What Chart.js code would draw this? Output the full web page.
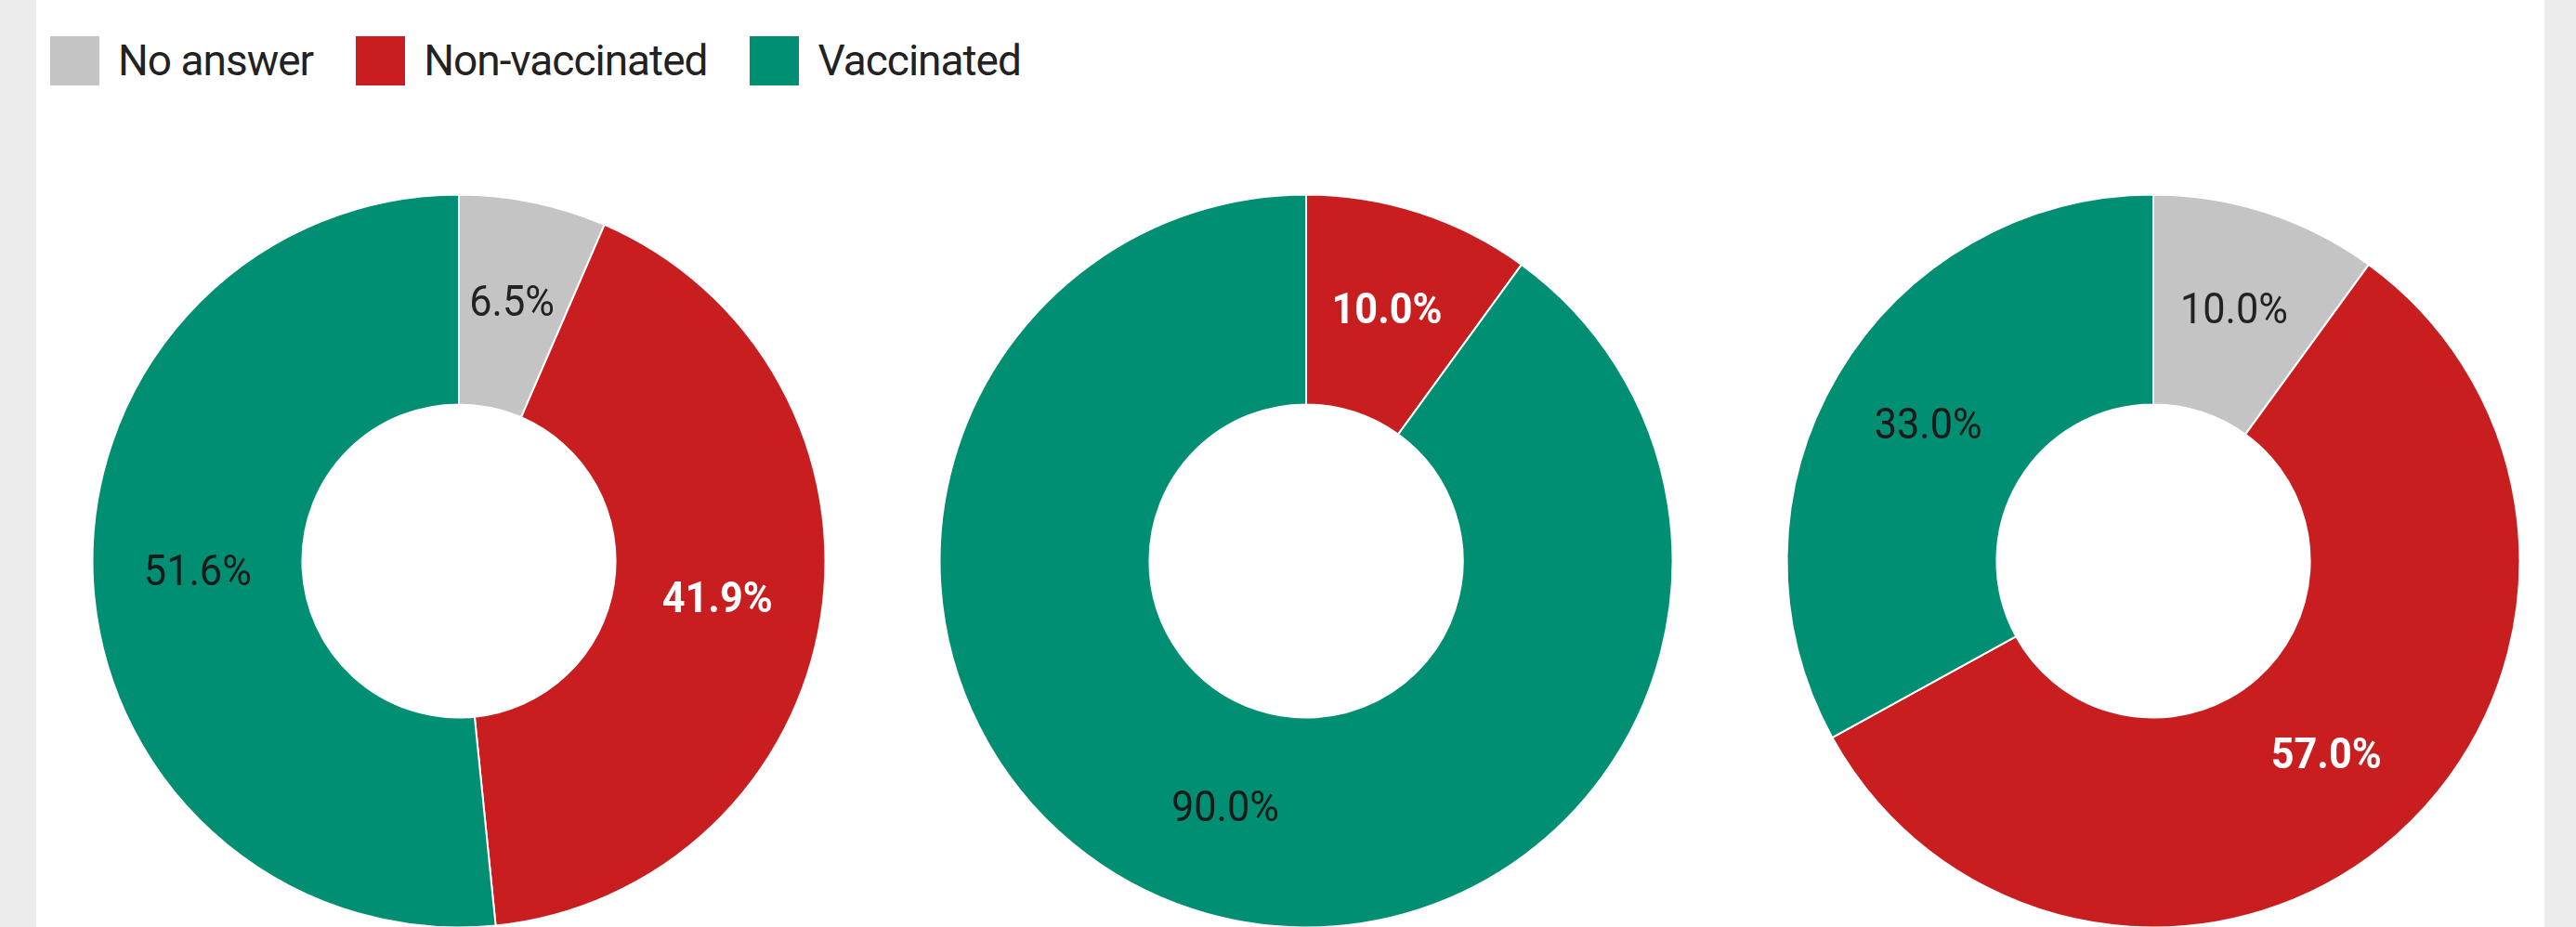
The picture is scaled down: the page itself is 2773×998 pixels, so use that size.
<!DOCTYPE html>
<html>
<head>
<meta charset="utf-8">
<script src="https://cdn.jsdelivr.net/npm/chart.js@4/dist/chart.umd.min.js"></script>
<style>
  html, body { margin: 0; padding: 0; }
  body { width: 2773px; height: 998px; background: #ebebeb; overflow: hidden; position: relative; font-family: Roboto, "Noto Sans", sans-serif; }
  #panel { position: absolute; left: 39px; top: 0; width: 2700px; height: 998px; background: #ffffff; }
  #legend { position: absolute; left: 54px; top: 39px; height: 53px; display: flex; align-items: center; }
  .item { display: flex; align-items: center; margin-right: 46px; }
  .sw { width: 53px; height: 53px; margin-right: 20px; }
  .lt { font-size: 46px; line-height: 53px; color: #222222; letter-spacing: -1px; white-space: nowrap; }
  .wrap { position: absolute; width: 800px; height: 800px; top: 204px; }
  .wrap canvas { display: block; }
</style>
</head>
<body>
<div id="panel"></div>
<div id="legend"></div>
<div class="wrap" id="w1"><canvas id="c1" width="800" height="800"></canvas></div>
<div class="wrap" id="w2"><canvas id="c2" width="800" height="800"></canvas></div>
<div class="wrap" id="w3"><canvas id="c3" width="800" height="800"></canvas></div>
<script>
// ---- data ----
const categories = ['No answer', 'Non-vaccinated', 'Vaccinated'];
const colors = ['#c4c4c4', '#c81e1f', '#008f72'];
const labelColors = ['#222222', '#ffffff', '#1a1a1a'];
const labelWeights = ['normal', 'bold', 'normal'];
const chart1Values = [6.5, 41.9, 51.6];
const chart2Values = [0, 10.0, 90.0];
const chart3Values = [10.0, 57.0, 33.0];

// ---- layout ----
const centersX = [493.5, 1406, 2317.5];
const outerRadius = 394.5;
const innerRadius = 170.5;

// legend
const legend = document.getElementById('legend');
categories.forEach((c, i) => {
  const it = document.createElement('div');
  it.className = 'item';
  const sw = document.createElement('div');
  sw.className = 'sw';
  sw.style.background = colors[i];
  const t = document.createElement('span');
  t.className = 'lt';
  t.textContent = c;
  it.appendChild(sw);
  it.appendChild(t);
  legend.appendChild(it);
});

const labelPlugin = {
  id: 'sliceLabels',
  afterDatasetsDraw(chart) {
    const ctx = chart.ctx;
    const meta = chart.getDatasetMeta(0);
    const vals = chart.data.datasets[0].data;
    meta.data.forEach((arc, i) => {
      if (!vals[i]) return;
      const p = arc.tooltipPosition();
      ctx.save();
      ctx.translate(p.x, p.y);
      ctx.scale(0.92, 1);
      ctx.font = labelWeights[i] + ' 47px Roboto, "Noto Sans", sans-serif';
      ctx.fillStyle = labelColors[i];
      ctx.textAlign = 'center';
      ctx.textBaseline = 'middle';
      ctx.fillText(vals[i].toFixed(1) + '%', 0, 0);
      ctx.restore();
    });
  }
};

function makeChart(id, wrapId, values, cx) {
  document.getElementById(wrapId).style.left = (cx - 400) + 'px';
  new Chart(document.getElementById(id), {
    type: 'doughnut',
    data: {
      labels: categories,
      datasets: [{
        data: values,
        backgroundColor: colors,
        borderColor: '#ffffff',
        borderWidth: 2,
        hoverOffset: 0
      }]
    },
    options: {
      responsive: false,
      animation: false,
      radius: outerRadius,
      cutout: innerRadius,
      layout: { padding: 0 },
      plugins: { legend: { display: false }, tooltip: { enabled: false } },
      events: []
    },
    plugins: [labelPlugin]
  });
}

makeChart('c1', 'w1', chart1Values, centersX[0]);
makeChart('c2', 'w2', chart2Values, centersX[1]);
makeChart('c3', 'w3', chart3Values, centersX[2]);
</script>
</body>
</html>
